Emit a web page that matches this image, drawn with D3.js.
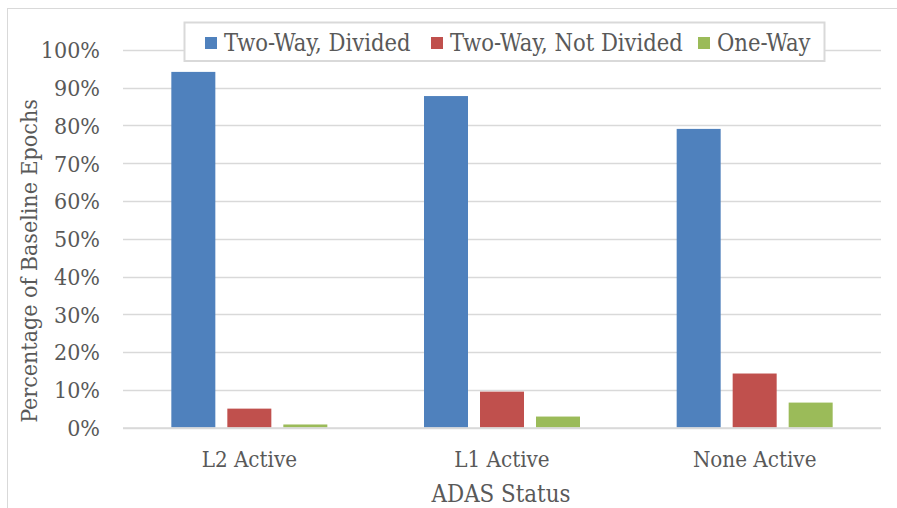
<!DOCTYPE html>
<html><head><meta charset="utf-8">
<script src="https://cdn.jsdelivr.net/npm/d3@7"></script>
<style>body{margin:0;background:#fff}svg{display:block}</style>
</head><body>
<svg id="c" width="897" height="508"></svg>
<script>
const categories = ["L2 Active", "L1 Active", "None Active"];
const seriesNames = ["Two-Way, Divided", "Two-Way, Not Divided", "One-Way"];
const twoWayDivided = [0.942, 0.878, 0.791];
const twoWayNotDivided = [0.050, 0.095, 0.143];
const oneWay = [0.008, 0.029, 0.066];
const colors = ["#4f81bd", "#c0504d", "#9bbb59"];
const yTicks = [0, 0.1, 0.2, 0.3, 0.4, 0.5, 0.6, 0.7, 0.8, 0.9, 1.0];
const xTitle = "ADAS Status";
const yTitle = "Percentage of Baseline Epochs";

const series = [twoWayDivided, twoWayNotDivided, oneWay];
const font = "'DejaVu Serif Condensed','DejaVu Serif',serif";
const textColor = "#595959";
const svg = d3.select("#c");
const m = {left: 123, right: 881, top: 50, bottom: 427.5};

// outer border
svg.append("rect").attr("x", 7.5).attr("y", 8.5).attr("width", 900).attr("height", 520)
  .attr("fill", "#fff").attr("stroke", "#d9d9d9").attr("stroke-width", 1);

const x = d3.scaleBand().domain(categories).range([m.left, m.right]).paddingInner(0).paddingOuter(0);
const y = d3.scaleLinear().domain([0, 1]).range([m.bottom, m.top]);

// gridlines
svg.append("g").selectAll("line").data(yTicks).join("line")
  .attr("x1", m.left).attr("x2", m.right)
  .attr("y1", d => Math.round(y(d)) + 0.5).attr("y2", d => Math.round(y(d)) + 0.5)
  .attr("stroke", "#d9d9d9").attr("stroke-width", 1.3);

// y tick labels
svg.append("g").selectAll("text").data(yTicks).join("text")
  .attr("x", 100).attr("y", d => y(d)).attr("dy", "0.36em")
  .attr("text-anchor", "end").attr("font-family", font).attr("font-size", 23)
  .attr("fill", textColor).text(d => d3.format(".0%")(d));

// bars
const barW = 44, gap = 12;
const xs = d3.scaleBand().domain(d3.range(series.length)).range([0, 3 * barW + 2 * gap]).paddingInner(gap / (barW + gap)).paddingOuter(0);
const groups = svg.append("g").selectAll("g").data(categories).join("g")
  .attr("transform", c => `translate(${x(c) + x.bandwidth() / 2 - (3 * barW + 2 * gap) / 2},0)`);
groups.selectAll("rect").data((c, i) => series.map((s, k) => ({k, v: s[i]}))).join("rect")
  .attr("x", d => xs(d.k)).attr("width", xs.bandwidth())
  .attr("y", d => y(d.v)).attr("height", d => y(0) - y(d.v))
  .attr("fill", d => colors[d.k]);

// baseline axis
svg.append("line").attr("x1", m.left).attr("x2", m.right)
  .attr("y1", m.bottom + 0.5).attr("y2", m.bottom + 0.5).attr("stroke", "#d9d9d9").attr("stroke-width", 1.5);

// category labels
svg.append("g").selectAll("text").data(categories).join("text")
  .attr("x", c => x(c) + x.bandwidth() / 2).attr("y", 467)
  .attr("text-anchor", "middle").attr("font-family", font).attr("font-size", 22.2)
  .attr("fill", textColor).text(c => c);

// axis titles
svg.append("text").attr("x", 501).attr("y", 502).attr("text-anchor", "middle")
  .attr("font-family", font).attr("font-size", 23.8).attr("fill", textColor).text(xTitle);
svg.append("text").attr("transform", "translate(37,261) rotate(-90)").attr("text-anchor", "middle")
  .attr("font-family", font).attr("font-size", 23).attr("fill", textColor).text(yTitle);

// legend
const lg = svg.append("g");
lg.append("rect").attr("x", 184.5).attr("y", 22.5).attr("width", 640).attr("height", 38.5)
  .attr("fill", "#fff").attr("stroke", "#d9d9d9").attr("stroke-width", 2);
const legX = [205, 431, 698];
seriesNames.forEach((n, k) => {
  lg.append("rect").attr("x", legX[k]).attr("y", 37).attr("width", 12).attr("height", 12).attr("fill", colors[k]);
  lg.append("text").attr("x", legX[k] + 19).attr("y", 43).attr("dy", "0.36em")
    .attr("font-family", font).attr("font-size", 23.5).attr("fill", textColor).text(n);
});
</script>
</body></html>
